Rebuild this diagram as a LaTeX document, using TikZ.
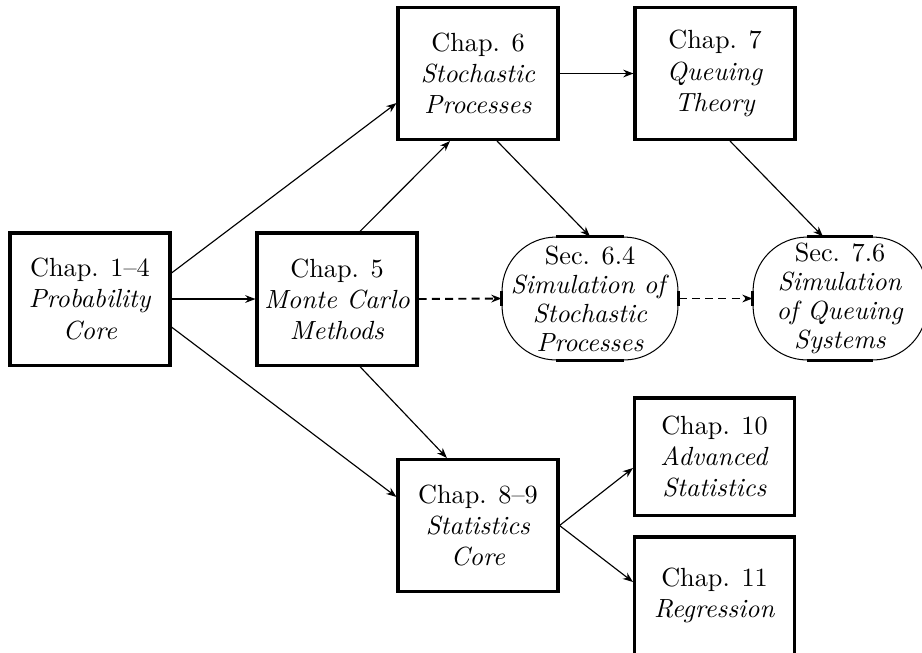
\documentclass[tikz,border=0pt]{standalone}
\usetikzlibrary{arrows.meta}
\begin{document}
\begin{tikzpicture}[x=0.3922pt,y=-0.3922pt,
  every node/.style={font=\fontsize{10.3}{12.2}\selectfont},
  chapbox/.style={draw,line width=1.2pt,align=center,minimum width=62.75pt,minimum height=51.8pt,inner sep=0pt},
  shortbox/.style={chapbox,minimum height=45.9pt},
  secbox/.style={draw,line width=0.4pt,align=center,rounded corners=21.2pt,minimum width=69pt,minimum height=48.2pt,inner sep=0pt,font=\fontsize{10.3}{11.4}\selectfont},
  flat/.style={line width=1.1pt},
  arr/.style={line width=0.45pt,-{Stealth[length=4pt,width=3pt]}},
  harr/.style={line width=0.75pt,-{Stealth[length=4pt,width=3pt]}},
  darr/.style={harr,dash pattern=on 3.2pt off 2pt}]
\useasboundingbox (0,0) rectangle (922,652);
\node[chapbox] (a) at (90,299) {Chap. 1--4\\\textit{Probability}\\\textit{Core}};
\node[chapbox] (b) at (337,299) {Chap. 5\\\textit{Monte Carlo}\\\textit{Methods}};
\node[chapbox] (c) at (478,73.5) {Chap. 6\\\textit{Stochastic}\\\textit{Processes}};
\node[chapbox] (d) at (715,73.5) {Chap. 7\\\textit{Queuing}\\\textit{Theory}};
\node[chapbox] (e) at (478,525.5) {Chap. 8--9\\\textit{Statistics}\\\textit{Core}};
\node[shortbox] (f) at (714.5,456.5) {Chap. 10\\\textit{Advanced}\\\textit{Statistics}};
\node[shortbox] (g) at (714.5,595.5) {Chap. 11\\\textit{Regression}};
\node[secbox] (s1) at (590,298.5) {Sec. 6.4\\\textit{Simulation of}\\\textit{Stochastic}\\\textit{Processes}};
\node[secbox,minimum width=68.2pt] (s2) at (840,298.5) {Sec. 7.6\\\textit{Simulation}\\\textit{of Queuing}\\\textit{Systems}};
\foreach \n in {s1,s2}{
  \draw[flat] ([xshift=21.2pt]\n.north west) -- ([xshift=-21.2pt]\n.north east);
  \draw[flat] ([xshift=21.2pt]\n.south west) -- ([xshift=-21.2pt]\n.south east);
  \draw[flat] ([yshift=-21.2pt]\n.north west) -- ([yshift=21.2pt]\n.south west);
  \draw[flat] ([yshift=-21.2pt]\n.north east) -- ([yshift=21.2pt]\n.south east);
}
\draw[arr] ([yshift=10.2pt]a.east) -- ([yshift=-11.6pt]c.west);
\draw[harr] (a.east) -- (b.west);
\draw[arr] ([yshift=-11pt]a.east) -- ([yshift=11.2pt]e.west);
\draw[arr] ([xshift=9pt]b.north) -- ([xshift=-11pt]c.south);
\draw[arr] ([xshift=9pt]b.south) -- ([xshift=-12.2pt]e.north);
\draw[harr] (c.east) -- (d.west);
\draw[arr] ([xshift=7.5pt]c.south) -- (s1.north);
\draw[arr] ([xshift=5.9pt]d.south) -- ([xshift=-6.7pt]s2.north);
\draw[darr] (b.east) -- (s1.west);
\draw[darr] (s1.east) -- (s2.west);
\draw[arr] (e.east) -- ([yshift=-4.5pt]f.west);
\draw[arr] (e.east) -- ([yshift=5.3pt]g.west);
\end{tikzpicture}
\end{document}
